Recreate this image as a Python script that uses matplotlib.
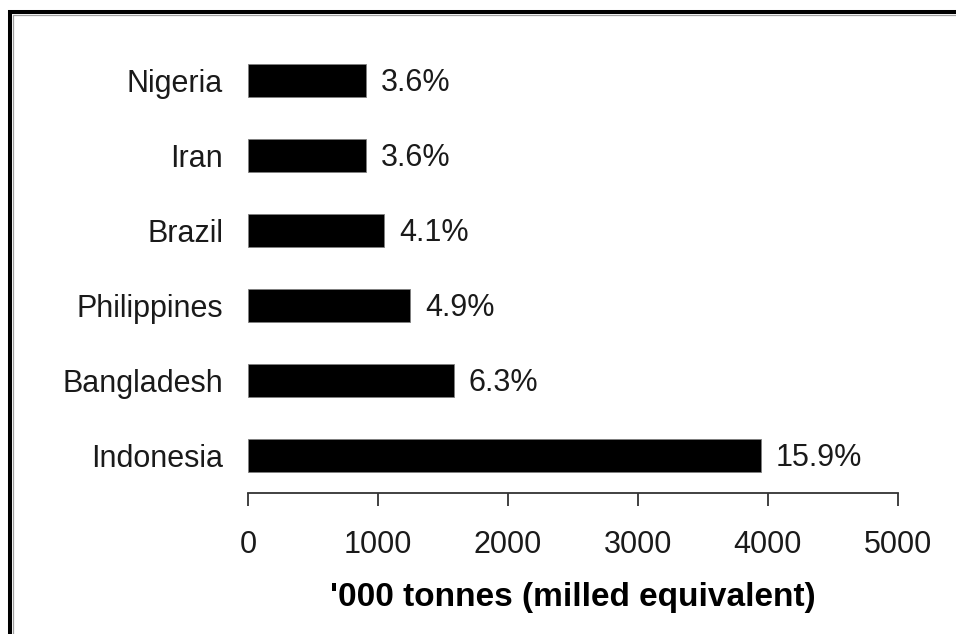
import matplotlib.pyplot as plt
from matplotlib.patches import Rectangle

countries = ["Indonesia", "Bangladesh", "Philippines", "Brazil", "Iran", "Nigeria"]
tonnes = [3946, 1586, 1249, 1047, 908, 908]
shares = ["15.9%", "6.3%", "4.9%", "4.1%", "3.6%", "3.6%"]
xticks = [0, 1000, 2000, 3000, 4000, 5000]

plt.rcParams['font.family'] = ['Liberation Sans', 'DejaVu Sans']

W, H = 956, 634
fig = plt.figure(figsize=(W / 100, H / 100), dpi=100)
ax = fig.add_axes([248 / W, (H - 492.7) / H, 649.5 / W, 449.2 / H])

pos = list(range(len(countries)))
ax.barh(pos, tonnes, height=0.44, color='black', edgecolor='#808080', linewidth=0.6)

for p, v, s in zip(pos, tonnes, shares):
    ax.text(v + 115, p - 0.03, s, va='center', ha='left', fontsize=22, color='#1a1a1a')

ax.set_xlim(0, 5000)
ax.set_ylim(-0.49, 5.5)
ax.set_xticks(xticks)
ax.set_xticklabels([str(t) for t in xticks], fontsize=22, color='#1a1a1a')
ax.set_yticks(pos)
ax.set_yticklabels(countries, fontsize=22, color='#1a1a1a')

for side in ['top', 'right', 'left']:
    ax.spines[side].set_visible(False)
ax.spines['bottom'].set_linewidth(1.3)
ax.spines['bottom'].set_color('#333333')
ax.tick_params(axis='x', length=9.5, width=1.3, color='#333333', pad=17)
ax.tick_params(axis='y', length=0, pad=18)

ax.set_xlabel("'000 tonnes (milled equivalent)", fontsize=24, fontweight='bold', labelpad=16)

# outer frame (only top and left edges are inside the picture)
fig.add_artist(Rectangle((10 / W, -0.2), 2, 1.2 - 12 / H, transform=fig.transFigure,
                         fill=False, edgecolor='black', linewidth=2.9))
fig.add_artist(Rectangle((13 / W, -0.2), 2, 1.2 - 15 / H, transform=fig.transFigure,
                         fill=False, edgecolor='#a0a0a0', linewidth=0.9))

fig.savefig('out.png', dpi=100)
